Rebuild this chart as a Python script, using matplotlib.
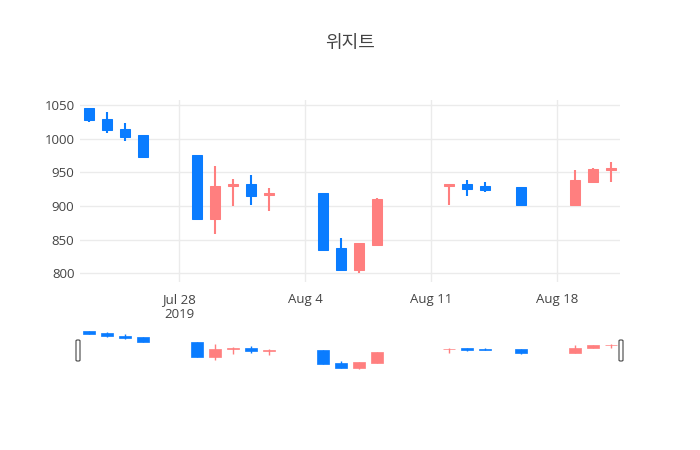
import matplotlib
matplotlib.use("Agg")
import matplotlib.pyplot as plt
import matplotlib.dates as mdates
from matplotlib.patches import FancyBboxPatch
import pandas as pd

dates = ["2019-07-23", "2019-07-24", "2019-07-25", "2019-07-26", "2019-07-29",
         "2019-07-30", "2019-07-31", "2019-08-01", "2019-08-02", "2019-08-05",
         "2019-08-06", "2019-08-07", "2019-08-08", "2019-08-12", "2019-08-13",
         "2019-08-14", "2019-08-16", "2019-08-19", "2019-08-20", "2019-08-21"]
opens = [1046, 1030, 1015, 1005, 976, 880, 929, 933, 916, 920,
         837, 805, 842, 929, 933, 930, 928, 902, 936, 954]
highs = [1046, 1039, 1024, 1006, 976, 959, 940, 946, 927, 920,
         852, 845, 912, 933, 939, 935, 928, 954, 957, 965]
lows = [1025, 1009, 996, 973, 880, 858, 900, 901, 893, 834,
        804, 800, 842, 902, 915, 921, 900, 902, 936, 936]
closes = [1028, 1013, 1003, 973, 880, 930, 933, 915, 920, 834,
          805, 845, 910, 932, 925, 924, 902, 939, 955, 956]
tick_dates = ["2019-07-28", "2019-08-04", "2019-08-11", "2019-08-18"]
tick_labels = ["Jul 28\n2019", "Aug 4", "Aug 11", "Aug 18"]
title = "위지트"

UP = "#ff7f7f"
DOWN = "#0a7cff"
GRID = "#ebebeb"
TXT = "#444444"

x = mdates.date2num(pd.to_datetime(dates))
ticks = mdates.date2num(pd.to_datetime(tick_dates))

plt.rcParams["font.family"] = ["Open Sans", "DejaVu Sans"]

fig = plt.figure(figsize=(7, 4.5), dpi=100)
ax = fig.add_axes([80 / 700, (450 - 282) / 450, 540 / 700, 182 / 450])
sl = fig.add_axes([80 / 700, (450 - 370) / 450, 540 / 700, 41 / 450])


def draw_candles(a, width, lw):
    for xi, o, h, l, c in zip(x, opens, highs, lows, closes):
        col = UP if c >= o else DOWN
        a.vlines(xi, l, h, color=col, linewidth=lw, zorder=2)
        lo, hi = min(o, c), max(o, c)
        a.bar(xi, max(hi - lo, 0.8), bottom=lo, width=width, color=col,
              edgecolor=col, linewidth=lw * 0.5, zorder=3)


draw_candles(ax, 0.58, 1.5)
ax.set_xlim(x[0] - 0.5, x[-1] + 0.5)
ax.set_ylim(787, 1057.5)
ax.set_yticks([800, 850, 900, 950, 1000, 1050])
ax.set_xticks(ticks)
ax.set_xticklabels(tick_labels)
ax.grid(True, color=GRID, linewidth=1)
ax.set_axisbelow(True)
for s in ax.spines.values():
    s.set_visible(False)
ax.tick_params(length=0, colors=TXT, labelsize=9.5)
ax.tick_params(axis="x", pad=8)
ax.tick_params(axis="y", pad=4)

# range slider below the main plot
draw_candles(sl, 0.62, 1.0)
sl.set_xlim(x[0] - 0.5, x[-1] + 0.5)
sl.set_ylim(793.5, 1059)
sl.set_xticks([])
sl.set_yticks([])
for s in sl.spines.values():
    s.set_visible(False)
for hx in (78, 621):
    fig.patches.append(FancyBboxPatch(((hx - 2) / 700, (450 - 361) / 450), 4 / 700, 21 / 450,
                                      transform=fig.transFigure,
                                      boxstyle="round,pad=0,rounding_size=0.002",
                                      facecolor="white", edgecolor="#444444", linewidth=0.8))

fig.text(350 / 700, 1 - 43 / 450, title, ha="center", va="center", fontsize=13,
         color=TXT, family=["Noto Sans CJK KR", "DejaVu Sans"])

fig.savefig("out.png", dpi=100, facecolor="white")
